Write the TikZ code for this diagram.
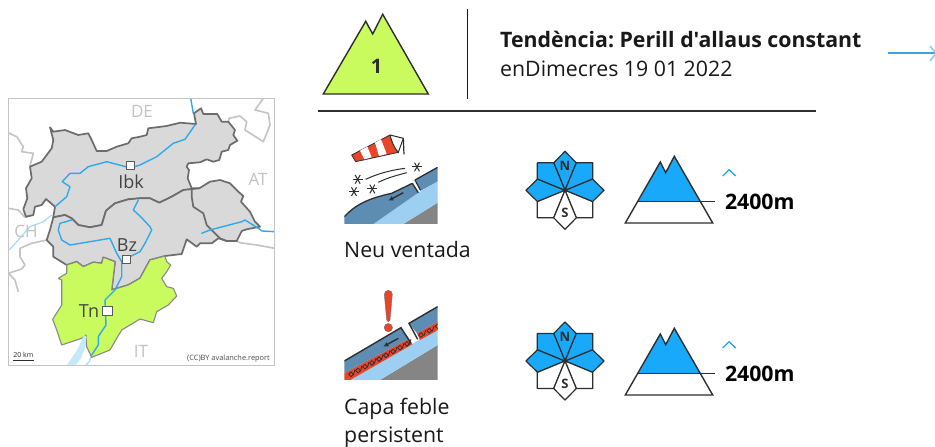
\documentclass[tikz,border=0pt]{standalone}
\usepackage{fontspec}
\setmainfont{Open Sans}[Ligatures=TeXOff]
\usetikzlibrary{calc,arrows.meta}
\frenchspacing
\definecolor{skyb}{HTML}{19A9FB}
\definecolor{riverb}{HTML}{2FA9EE}
\definecolor{lakeb}{HTML}{C4E9FA}
\definecolor{lgreen}{HTML}{C9FB5F}
\definecolor{mapgrey}{HTML}{D9D9D9}
\definecolor{bordd}{HTML}{6C6C6C}
\definecolor{bordl}{HTML}{C4C4C4}
\definecolor{ink}{HTML}{2E2E2E}
\definecolor{labg}{HTML}{C2C2C2}
\definecolor{slab}{HTML}{5E8DB3}
\definecolor{under}{HTML}{9CCFF2}
\definecolor{rock}{HTML}{858585}
\definecolor{alert}{HTML}{E8452A}
\newcommand{\txt}[1]{\fontsize{#1}{#1}\selectfont}
\tikzset{
  x=1pt,y=-1pt,
  region/.style={draw=bordd,line width=1.7pt,line join=round},
  outer/.style={draw=bordl,line width=1.6pt,line join=round},
  river/.style={draw=riverb,line width=1.4pt,line join=round,line cap=round},
  palerive/.style={draw=riverb!40,line width=1.3pt,line join=round},
  maplab/.style={text=labg,font=\txt{17},inner sep=0pt},
  citylab/.style={text=ink!90,font=\txt{18},inner sep=0pt},
  citybox/.style={draw=ink!80,fill=white,line width=1.1pt,minimum size=8.5pt,inner sep=0pt},
  body/.style={anchor=base west,inner sep=0pt,font=\txt{21.3},text=black!90},
  petal/.style={draw=ink,line width=1.2pt,line join=round},
  mount/.style={draw=ink,line width=1.4pt,line join=miter},
  pics/compass/.style={code={
    \path[petal,fill=skyb] (0,0) -- (-11.3,-27.5) -- (0,-39) -- (11.3,-27.5) -- cycle;
    \path[petal,fill=skyb] (0,0) -- (27.5,-11.3) -- (39,0) -- (27.5,11.3) -- cycle;
    \path[petal,fill=skyb] (0,0) -- (-27.5,-11.3) -- (-39,0) -- (-27.5,11.3) -- cycle;
    \path[petal,fill=skyb] (0,0) -- (11.3,-27.5) -- (27.7,-27.5) -- (27.7,-11.4) -- cycle;
    \path[petal,fill=skyb] (0,0) -- (-11.3,-27.5) -- (-27.7,-27.5) -- (-27.7,-11.4) -- cycle;
    \path[petal,fill=white] (0,0) -- (11.3,27.5) -- (27.7,27.5) -- (27.7,11.4) -- cycle;
    \path[petal,fill=white] (0,0) -- (-11.3,27.5) -- (-27.7,27.5) -- (-27.7,11.4) -- cycle;
    \path[petal,fill=white] (0,0) -- (-11.3,27.5) -- (0,39) -- (11.3,27.5) -- cycle;
    \node[inner sep=0pt,font=\bfseries\txt{13},text=ink] (-n) at (0,-24) {N};
    \node[inner sep=0pt,font=\bfseries\txt{13},text=ink] (-s) at (0,23) {S};
  }},
  pics/slope/.style={code={
    \path[fill=skyb] (-13.5,0) -- (8.5,-39.7) -- (13.9,-29) -- (22.5,-45.4) -- (48.2,0) -- cycle;
    \path[mount] (8.5,-39.7) -- (13.9,-29) -- (22.5,-45.4) -- (60.9,21.3) -- (-26.5,21.3) -- cycle;
    \draw[draw=ink,line width=1.4pt] (-13.5,0) -- (63.5,0);
    \draw[draw=skyb,line width=1.3pt,line join=round] (70.9,-25.7) -- (77.2,-32) -- (83.9,-25.7);
    \node[anchor=base west,inner sep=0pt,font=\bfseries\txt{21.3},text=black] (-alt) at (73,7.4) {2400m};
  }}
}
\begin{document}
\begin{tikzpicture}
\useasboundingbox (0,0) rectangle (935,447);
\fill[white] (0,0) rectangle (935,447);

%% ---------- map ----------
\begin{scope}
\clip (8.3,98.3) rectangle (274.7,365.3);
% lake and pale outside rivers
\fill[lakeb] (84,335) -- (86.5,340) -- (85,348) -- (81,358) -- (75,366) -- (66,366) -- (76,352) -- (82,340) -- cycle;
\draw[palerive] (51.7,215) -- (43.3,221.7) -- (30,226.7) -- (20,238) -- (9.3,250);
\draw[palerive] (91.7,355) -- (89,362) -- (85,366);
\draw[river] (190.7,98.3) -- (193.3,113.3);
\draw[river] (258,228) -- (262,231) -- (275,231.7);
% outer borders
\draw[outer] (8.3,132.7) -- (16.7,136.7) -- (23.3,146.7) -- (21.7,151.7) -- (33.3,153.3) -- (30,166);
\draw[outer] (8.3,208.3) -- (18.3,210) -- (25,217.3) -- (33.3,215);
\draw[outer] (46.7,240) -- (31.7,243.3) -- (20,248.3) -- (20,256.7) -- (25,265) -- (21.7,269) -- (8.3,273.3);
\draw[outer] (8.3,273.3) -- (15,280) -- (18.3,291.7);
\draw[outer] (263.3,98.3) -- (255,110) -- (268.3,113.3) -- (270,125) -- (263.3,141.7) -- (245,130) -- (246.7,121.7) -- (240,116) -- (229.3,118.3) -- (228.3,121.7);
\draw[outer] (236.7,241) -- (240,242.7) -- (256.7,245) -- (275,248.3);
% North Tyrol
\path[region,fill=mapgrey] (55,206.7) -- (46,199) -- (41.7,205) -- (35,206.7) -- (33.3,215) -- (26,216.7) -- (23.3,209.3) -- (27.3,198.3) -- (26,188.3) -- (31.7,178.3) -- (30,166.7) -- (41.7,161.7) -- (51.7,148.3) -- (53.3,140) -- (50,127.3) -- (53.3,131.7) -- (65,130) -- (78.3,135) -- (88.3,133.3) -- (91.7,140) -- (96.7,151) -- (106.7,151) -- (116.7,146.7) -- (128.3,143.3) -- (131.7,138.3) -- (140,136.7) -- (146.7,135) -- (148.3,128.3) -- (166.7,126) -- (180,122.7) -- (196,124) -- (194,113.3) -- (201,108.3) -- (203.3,114) -- (217.3,114) -- (221.7,121.7) -- (228.3,121.7) -- (235,130) -- (233.3,135) -- (237.3,140.7) -- (230,145) -- (228.3,150) -- (221.7,151.7) -- (219.3,160) -- (213.3,161.7) -- (206.7,159.3) -- (200,162.3) -- (188.3,163.3) -- (186.7,166.7) -- (189,170) -- (187.7,178.3) -- (191.7,188.3) -- (199.3,188.3) -- (183.3,190) -- (171.7,196.7) -- (159.3,202.7) -- (150,198.3) -- (140,198.3) -- (128.3,199.3) -- (115,203.3) -- (106,210.7) -- (101.7,225) -- (90,227.3) -- (78.3,225) -- (71.7,218.3) -- (65,215) -- (53.3,217.3) -- cycle;
% South and East Tyrol
\path[region,fill=mapgrey] (53.3,217.3) -- (65,215) -- (71.7,218.3) -- (78.3,225) -- (90,227.3) -- (101.7,225) -- (106,210.7) -- (115,203.3) -- (128.3,199.3) -- (140,198.3) -- (150,198.3) -- (159.3,202.7) -- (171.7,196.7) -- (183.3,190) -- (199.3,188.3) -- (210,181.7) -- (220,180) -- (230,183.3) -- (238.3,191.7) -- (243.3,196) -- (241,201.7) -- (250,211.7) -- (255,221.7) -- (260,226.7) -- (246.7,229.3) -- (241.7,231) -- (236.7,241) -- (226.7,241) -- (218.3,238.3) -- (211.7,243.3) -- (200,243.3) -- (196.7,246.7) -- (186.7,239.3) -- (181.7,254) -- (165,256) -- (150,260) -- (140,278.3) -- (128.3,285) -- (111.7,290) -- (115,261.7) -- (103.3,257.3) -- (101.7,263.3) -- (93.3,262.3) -- (83.3,266.7) -- (76.7,261.7) -- (66.7,265) -- (53.3,256.7) -- (53.3,246.7) -- (46.7,240) -- (50,230) -- cycle;
\draw[region] (191.7,188.3) -- (191.7,196.7) -- (193.3,206.7) -- (203.3,213.3) -- (206.7,225) -- (211.7,230) -- (220,238.3) -- (226.7,241);
% Trentino
\path[draw=bordd!80,line width=1.1pt,line join=round,fill=lgreen] (66.7,265) -- (76.7,261.7) -- (83.3,266.7) -- (93.3,262.3) -- (101.7,263.3) -- (103.3,257.3) -- (115,261.7) -- (111.7,290) -- (128.3,285) -- (140,278.3) -- (150,260) -- (165,256) -- (166.7,261.7) -- (170.7,265) -- (166.7,271.7) -- (161.7,278.3) -- (166.7,286.7) -- (173.3,288.3) -- (176.7,296) -- (168.3,305) -- (156.7,311.7) -- (153.3,322.7) -- (140,319) -- (121.7,330) -- (116.7,338.3) -- (110,350) -- (91.7,357.3) -- (86.7,346.7) -- (86,335) -- (81.7,338.3) -- (61.7,345) -- (56.7,330) -- (52.7,319.3) -- (61.7,305) -- (61.7,280) -- (58.3,278.3) -- (66.7,273.3) -- cycle;
\fill[lakeb] (84,335) -- (86.5,337) -- (85,346) -- (82,346) -- (81.5,340) -- cycle;
% rivers
\draw[river] (195,125) -- (185,139.3) -- (173.3,143.3) -- (156.7,156.7) -- (140,165) -- (130.7,168) -- (106.7,161.7) -- (88.3,166.7) -- (80,173.3) -- (70,173.3) -- (62.3,181.7) -- (70,186.7) -- (66.7,196.7) -- (55,206.7);
\draw[river] (71.7,220) -- (60,223.3) -- (58.3,230) -- (61.7,240) -- (70,245) -- (100,240) -- (110,238.3) -- (116.7,253.3) -- (121.7,261.7) -- (121.7,276.7) -- (115,290) -- (105,300) -- (106,325) -- (98.3,336.7) -- (98.3,345) -- (91.7,355);
\draw[river] (138.3,200) -- (133.3,210) -- (140,216) -- (150,226.7) -- (151.7,230) -- (145,243.3) -- (140,251.7) -- (130,256.7);
\draw[river] (201.7,233.3) -- (210,230) -- (241.7,221.7) -- (245,220) -- (258.3,228.3);
% labels
\node[maplab] (de) at (142,111) {DE};
\node[maplab] (at) at (258,179) {AT};
\node[maplab] (ch) at (26,231) {CH};
\node[maplab] (it) at (141,351) {IT};
\node[citybox] (ibkb) at (130.5,165.5) {};
\node[citylab] (ibk) at (131,181.5) {Ibk};
\node[citybox] (bzb) at (126.5,259.5) {};
\node[citylab] (bz) at (127,245.5) {Bz};
\node[citybox,minimum size=9.5pt] (tnb) at (107.5,311) {};
\node[citylab] (tn) at (89,311) {Tn};
\node[inner sep=0pt,font=\txt{7},text=ink] (km) at (23.3,354.5) {20 km};
\coordinate (kma) at (13,360);
\coordinate (kmb) at (33.5,360);
\draw[ink,line width=0.9pt] (kma) -- (kmb);
\node[anchor=east,inner sep=0pt,font=\txt{7.4},text=ink!85] (cc) at (270,358.5) {(CC)BY avalanche.report};
\end{scope}
\draw[bordl,line width=1pt] (8.3,98.3) rectangle (274.7,365.3);

%% ---------- header ----------
\path[mount,fill=lgreen] (365.7,21.3) -- (372.7,34) -- (382.7,14.3) -- (428.3,94) -- (323.3,94) -- cycle;
\node[inner sep=0pt,font=\bfseries\txt{20},text=ink] (lvl) at (376.5,66) {1};
\coordinate (va) at (467.7,9);
\coordinate (vb) at (467.7,99);
\draw[black!90,line width=1.2pt] (va) -- (vb);
\coordinate (ha) at (318,111);
\coordinate (hb) at (816,111);
\draw[ink,line width=1.2pt] (ha) -- (hb);
\node[body,font=\bfseries\txt{21.3}] (t1) at (500,47.5) {Tendència: Perill d'allaus constant};
\node[body] (t2) at (500,76) {enDimecres 19 01 2022};
\coordinate (arra) at (888,53.3);
\coordinate (arrb) at (935,53.3);
\draw[riverb!85!gray,line width=1.9pt] (arra) -- (arrb);
\draw[skyb!55,line width=1.6pt] (930,46) -- (936,53.3) -- (930,61);

%% ---------- wind slab icon ----------
\begin{scope}[shift={(335,120)},scale=0.3333]
\clip (28,30) rectangle (308,312);
\fill[rock] (205,312) -- (308,248) -- (308,312) -- cycle;
\fill[under] (115,312) -- (250,218) -- (308,184) -- (308,248) -- (205,312) -- cycle;
\path[fill=slab] (28,312) -- (28,290) .. controls (60,255) and (100,235) .. (170,220) -- (232,190) -- (250,218) -- (115,312) -- cycle;
\path[fill=slab] (240,180) -- (308,142) -- (308,184) -- (256,213) -- cycle;
\draw[ink,line width=1.3pt] (28,290) .. controls (60,255) and (100,235) .. (170,220) -- (232,190);
\draw[ink,line width=1.3pt] (240,180) -- (308,142);
\draw[ink,line width=1.3pt] (232,190) -- (250,218);
\draw[ink,line width=1.2pt] (240,180) -- (256,210);
\draw[ink,line width=1.4pt,-{Latex[length=5pt,width=5pt]}] (205,218) -- (160,242);
% windsock
\draw[ink,line width=1.2pt] (207,103) -- (205,55);
\path[fill=alert,draw=ink,line width=.8pt,line join=round] (50,105) -- (165,45) -- (190,97) -- (62,125) -- cycle;
\fill[white] (75,92) -- (97,80) -- (110,112) -- (88,118) -- cycle;
\fill[white] (120,68) -- (138,58) -- (155,102) -- (132,108) -- cycle;
\path[fill=white,draw=ink,line width=1pt] (165,45) -- (205,55) -- (190,97) .. controls (178,85) and (170,65) .. (165,45);
% flakes
\foreach \fx/\fy in {68/178,57/215,112/207,246/141}{
  \foreach \fa in {0,60,120}{
    \draw[ink,line width=1pt,rotate around={\fa:(\fx,\fy)}] (\fx-15,\fy) -- (\fx+15,\fy);}}
\draw[ink,line width=1pt] (92,178) .. controls (130,160) and (170,150) .. (210,145);
\draw[ink,line width=1pt] (130,187) .. controls (160,172) and (190,165) .. (215,158);
\end{scope}

%% ---------- persistent layer icon ----------
\begin{scope}[shift={(335,285)},scale=0.3333]
\clip (28,0) rectangle (308,285);
\fill[rock] (135,285) -- (308,180) -- (308,285) -- cycle;
\fill[under] (46,285) -- (255,163) -- (308,136) -- (308,180) -- (135,285) -- cycle;
\path[fill=alert] (28,264) -- (222,161) -- (232,178) -- (46,285) -- (28,285) -- cycle;
\path[fill=alert] (246,145) -- (308,110) -- (308,136) -- (255,165) -- cycle;
\path[fill=slab] (28,228) -- (198,128) -- (222,161) -- (28,264) -- cycle;
\path[fill=slab] (222,115) -- (308,65) -- (308,110) -- (246,145) -- cycle;
\draw[ink,line width=1.4pt] (28,228) -- (198,128) -- (228,175);
\draw[ink,line width=1.4pt] (248,163) -- (222,115) -- (308,65);
\foreach \s in {0,1,...,8}{
  \draw[ink,line width=.8pt,rotate around={45:({48+\s*21},{268-\s*11.4})}] ({43+\s*21},{263-\s*11.4}) rectangle ({53+\s*21},{273-\s*11.4});
  \draw[ink,line width=.8pt] ({60+\s*21},{254-\s*11.4}) -- ({55+\s*21},{270-\s*11.4});}
\foreach \s in {0,1,2}{
  \draw[ink,line width=.8pt,rotate around={45:({258+\s*25},{150-\s*13})}] ({253+\s*25},{145-\s*13}) rectangle ({263+\s*25},{155-\s*13});
  \draw[ink,line width=.8pt] ({272+\s*25},{136-\s*13}) -- ({267+\s*25},{152-\s*13});}
\draw[ink,line width=1.4pt,-{Latex[length=5pt,width=5pt]}] (190,160) -- (145,185);
\path[fill=alert,draw=bordd,line width=.4pt] (148,28) .. controls (148,12) and (172,12) .. (172,28) -- (165,105) .. controls (163,112) and (157,112) .. (155,105) -- cycle;
\path[fill=alert,draw=bordd,line width=.4pt] (160,128) circle[radius=12.5];
\end{scope}

%% ---------- texts ----------
\node[body] (neu) at (344,257) {Neu ventada};
\node[body] (capa) at (344,414) {Capa feble};
\node[body] (pers) at (344,442) {persistent};

%% ---------- aspect roses and altitude ----------
\pic (roseA) at (565,190.3) {compass};
\pic (roseB) at (565,361) {compass};
\pic (altA) at (651.8,201.7) {slope};
\pic (altB) at (651.8,373.7) {slope};
\end{tikzpicture}
\end{document}
